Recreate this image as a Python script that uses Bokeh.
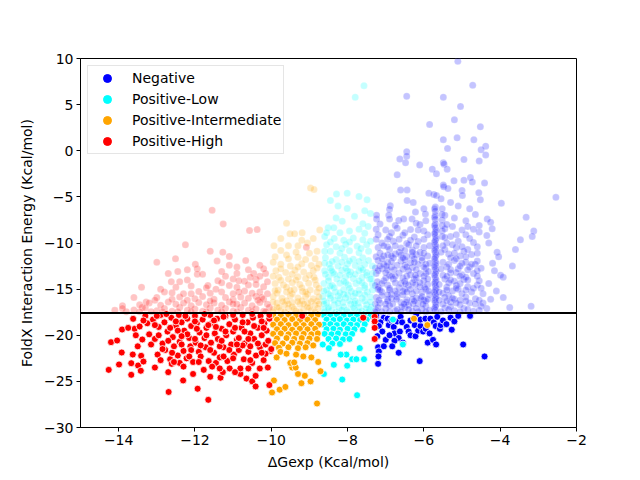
import numpy as np
from bokeh.plotting import figure
from bokeh.models import Range1d, FixedTicker, Span, Legend, LegendItem, CustomJSTickFormatter
from bokeh.embed import file_html
from bokeh.resources import INLINE

# points below this FoldX energy are drawn solid, above it faded
threshold = -17.6

x_ticks = [-14, -12, -10, -8, -6, -4, -2]
y_ticks = [-30, -25, -20, -15, -10, -5, 0, 5, 10]

labels = ["Negative", "Positive-Low", "Positive-Intermediate", "Positive-High"]
colors = ["#0000ff", "#00ffff", "#ffa500", "#ff0000"]

# (dGexp, FoldX energy)
neg_pts = [
    (-5.11, 9.7), (-4.72, 7.1), (-6.45, 5.9), (-5.49, 5.8), (-5.04, 4.8), (-5.2, 3.35), (-5.85, 2.85),
    (-4.52, 2.6), (-5.49, 1.2), (-5.13, 1.4), (-4.69, 1.2), (-5.38, 0.25), (-4.38, 0.5), (-4.5, 0.1),
    (-4.38, -0.45), (-6.45, -0.1), (-6.45, -0.6), (-6.63, -0.9), (-6.48, -1.3), (-6.11, -1.55),
    (-5.49, -1.3), (-5.47, -1.45), (-5.39, -2.0), (-5.78, -2.0), (-5.67, -2.5), (-4.95, -0.95),
    (-4.55, -1.1), (-6.7, -2.6), (-5.21, -3.25), (-4.95, -3.2), (-4.78, -2.9), (-4.73, -3.4),
    (-4.41, -3.5), (-6.61, -4.25), (-6.44, -4.25), (-5.49, -3.7), (-5.48, -3.9), (-5.37, -4.1),
    (-5.87, -4.6), (-5.74, -4.75), (-5.67, -4.85), (-5.0, -4.3), (-4.99, -4.85), (-4.56, -4.55),
    (-6.44, -5.4), (-6.28, -5.6), (-4.52, -5.3), (-3.97, -5.7), (-2.54, -5.05), (-6.88, -5.95),
    (-6.9, -6.35), (-3.32, -7.2), (-3.12, -8.7), (-3.16, -9.3), (-3.47, -9.65), (-3.6, -10.7),
    (-3.68, -12.5), (-3.92, -13.7), (-3.99, -13.5), (-3.92, -15.9), (-3.19, -16.85), (-4.25, -16.1),
    (-7.24, -7.4), (-7.24, -7.0), (-6.92, -7.0), (-6.9, -7.4), (-6.66, -7.55), (-6.53, -7.4),
    (-6.31, -7.4), (-6.22, -6.65), (-6.0, -6.3), (-5.96, -6.85), (-4.34, -7.4), (-4.25, -7.75),
    (-4.21, -8.45), (-4.08, -11.0), (-4.04, -11.5), (-5.55, -5.2), (-5.3, -5.6), (-5.1, -6.0),
    (-4.8, -6.3), (-4.65, -6.9), (-5.45, -7.0), (-5.2, -7.3), (-4.9, -7.6), (-4.55, -8.1),
    (-6.1, -8.0), (-5.95, -7.6), (-4.35, -9.2), (-4.3, -10.0), (-4.2, -12.2), (-4.15, -13.0),
    (-4.3, -14.4), (-4.1, -15.2), (-4.35, -17.1), (-3.75, -17.0), (-4.45, -16.5),
    (-5.7, -6.1), (-5.7, -6.55), (-5.7, -7.0), (-5.7, -7.45), (-5.7, -7.9), (-5.7, -8.35),
    (-5.7, -8.8), (-5.7, -9.25), (-5.7, -9.7), (-5.7, -10.15), (-5.7, -10.6), (-5.7, -11.05),
    (-5.7, -11.5), (-5.7, -11.95), (-5.7, -12.4), (-5.7, -12.85), (-5.7, -13.3), (-5.7, -13.75),
    (-5.7, -14.2), (-5.7, -14.65), (-5.7, -15.1), (-5.7, -15.55), (-5.7, -16.0), (-5.7, -16.45),
    (-5.7, -16.9), (-5.7, -17.3), (-5.68, -8.6), (-5.68, -9.5), (-5.68, -10.4), (-5.68, -11.3),
    (-5.68, -12.2), (-5.68, -13.1), (-5.68, -14.0), (-5.68, -14.9), (-5.68, -15.8), (-5.68, -16.7),
    (-5.72, -6.3), (-5.72, -7.2), (-5.72, -8.1), (-5.72, -9.0), (-5.72, -9.9), (-5.72, -10.8),
    (-5.72, -11.7), (-5.72, -12.6), (-5.72, -13.5), (-5.72, -14.4), (-5.72, -15.3), (-5.72, -16.2),
    (-5.72, -17.1),
    (-5.52, -6.3), (-5.52, -6.9), (-5.52, -7.5), (-5.52, -8.1), (-5.52, -8.7), (-5.52, -9.3),
    (-7.25, -17.3), (-7.0, -17.1), (-6.75, -17.35), (-6.5, -17.0), (-6.3, -17.4), (-6.05, -17.15),
    (-5.85, -17.3), (-5.45, -17.05), (-5.2, -17.35), (-4.95, -17.1), (-4.7, -17.4),
    (-7.15, -16.5), (-6.9, -16.8), (-6.6, -16.45), (-6.4, -16.75), (-6.15, -16.55), (-5.95, -16.85),
    (-5.5, -16.6), (-5.3, -16.4), (-5.05, -16.7), (-4.8, -16.5), (-4.5, -16.85),
    (-7.25, -15.9), (-6.95, -16.1), (-6.7, -15.85), (-6.45, -16.15), (-6.2, -15.95), (-6.0, -16.2),
    (-5.45, -15.9), (-5.2, -16.1), (-4.9, -15.85), (-4.65, -16.05),
    (-7.1, -15.3), (-6.85, -15.55), (-6.55, -15.25), (-6.3, -15.5), (-6.05, -15.35), (-5.5, -15.45),
    (-5.25, -15.2), (-5.0, -15.5), (-4.75, -15.3), (-4.45, -15.5),
    (-7.2, -14.8), (-6.95, -14.55), (-6.65, -14.85), (-6.4, -14.6), (-6.1, -14.75), (-5.9, -14.5),
    (-5.4, -14.8), (-5.15, -14.6), (-4.85, -14.75), (-4.6, -14.55),
    (-7.05, -14.1), (-6.8, -13.9), (-6.5, -14.15), (-6.25, -13.95), (-6.0, -14.1), (-5.45, -13.9),
    (-5.2, -14.15), (-4.95, -13.95), (-4.55, -14.1),
    (-7.25, -13.3), (-6.9, -13.5), (-6.65, -13.25), (-6.35, -13.45), (-6.1, -13.3), (-5.5, -13.5),
    (-5.3, -13.25), (-5.0, -13.45), (-4.7, -13.3),
    (-7.1, -12.8), (-6.85, -12.6), (-6.55, -12.85), (-6.3, -12.65), (-5.95, -12.75), (-5.4, -12.6),
    (-5.1, -12.8), (-4.8, -12.6), (-4.5, -12.75),
    (-7.2, -11.9), (-6.95, -12.1), (-6.6, -11.95), (-6.35, -12.15), (-6.05, -11.9), (-5.5, -12.1),
    (-5.2, -11.9), (-4.9, -12.1), (-4.6, -11.95),
    (-7.05, -11.4), (-6.75, -11.2), (-6.45, -11.45), (-6.2, -11.25), (-5.9, -11.4), (-5.35, -11.2),
    (-5.05, -11.4), (-4.75, -11.25),
    (-7.2, -10.5), (-6.9, -10.7), (-6.6, -10.55), (-6.3, -10.75), (-6.0, -10.5), (-5.45, -10.7),
    (-5.15, -10.5), (-4.85, -10.7),
    (-7.1, -10.0), (-6.8, -9.8), (-6.45, -10.05), (-6.15, -9.85), (-5.4, -10.0), (-5.1, -9.8), (-4.7, -9.95),
    (-7.2, -9.1), (-6.9, -9.3), (-6.55, -9.15), (-6.25, -9.35), (-5.9, -9.1), (-5.3, -9.3), (-4.9, -9.1),
    (-7.0, -8.6), (-6.7, -8.4), (-6.35, -8.55), (-6.0, -8.7), (-5.45, -8.45), (-5.0, -8.6), (-4.55, -8.8),
    (-7.15, -7.95), (-6.75, -8.1), (-6.2, -7.85), (-5.4, -8.0), (-4.85, -8.2),
    (-7.2, -17.0), (-6.95, -16.3), (-6.7, -17.2), (-6.45, -16.4), (-6.2, -17.1), (-5.95, -16.3),
    (-7.1, -15.7), (-6.85, -16.0), (-6.55, -15.6), (-6.3, -16.1), (-6.05, -15.8), (-7.2, -15.0),
    (-6.9, -15.1), (-6.6, -14.4), (-6.35, -15.0), (-6.1, -14.3), (-7.1, -14.4), (-6.85, -13.6),
    (-6.55, -13.8), (-6.3, -14.3), (-6.0, -13.6), (-7.2, -13.0), (-6.95, -12.9), (-6.7, -12.4),
    (-6.4, -13.0), (-6.15, -12.3), (-7.05, -12.3), (-6.8, -11.6), (-6.5, -11.8), (-6.25, -11.7),
    (-5.95, -12.3), (-7.15, -11.1), (-6.95, -10.4), (-6.65, -11.0), (-6.4, -10.2), (-6.1, -11.0),
    (-5.3, -16.9), (-5.05, -16.2), (-5.35, -15.7), (-5.1, -15.0), (-5.35, -14.3), (-5.05, -13.6),
    (-5.3, -12.9), (-5.0, -12.2), (-5.3, -11.6), (-4.95, -10.9), (-4.6, -13.6), (-4.65, -12.3),
    (-4.5, -14.9), (-4.55, -16.2),
    (-7.18, -16.2), (-6.82, -16.6), (-6.58, -16.9), (-6.28, -16.6), (-6.08, -16.0), (-5.85, -15.6),
    (-5.6, -16.2), (-5.4, -16.3), (-5.15, -16.5), (-4.9, -16.3), (-4.65, -16.6),
    (-7.22, -14.2), (-6.95, -15.6), (-6.75, -15.2), (-6.5, -15.0), (-6.2, -15.2), (-5.95, -15.0),
    (-5.6, -15.3), (-5.4, -15.1), (-5.15, -14.9), (-4.9, -15.1), (-4.7, -14.9),
    (-7.0, -13.2), (-6.75, -14.3), (-6.45, -13.6), (-6.2, -13.8), (-5.9, -13.9), (-5.6, -14.5),
    (-5.4, -13.6), (-5.15, -13.2), (-4.9, -13.7), (-4.6, -13.0),
    (-7.15, -12.5), (-6.85, -12.0), (-6.5, -12.4), (-6.2, -12.9), (-5.85, -12.2), (-5.55, -12.8),
    (-5.35, -12.3), (-5.05, -12.5), (-4.75, -12.3),
    (-7.25, -11.5), (-6.95, -11.3), (-6.6, -11.3), (-6.3, -11.4), (-6.0, -11.1), (-5.55, -11.0),
    (-5.2, -11.1), (-4.9, -11.5), (-4.6, -11.1),
    (-7.05, -10.3), (-6.75, -10.3), (-6.5, -10.8), (-6.2, -10.3), (-5.85, -10.3), (-5.5, -10.3),
    (-5.25, -10.2), (-5.0, -10.4), (-4.6, -10.4),
    (-7.25, -9.6), (-6.95, -9.6), (-6.65, -9.6), (-6.35, -9.7), (-6.0, -9.6), (-5.45, -9.4),
    (-5.15, -9.1), (-4.8, -9.5), (-7.25, -8.5), (-6.85, -8.9), (-6.5, -8.9), (-6.15, -8.6),
    (-5.25, -8.2), (-4.7, -8.5),
    (-7.28, -17.45), (-7.1, -17.45), (-6.9, -17.45), (-6.6, -17.45), (-6.4, -17.2), (-6.15, -17.45),
    (-5.95, -17.45), (-5.55, -17.45), (-5.35, -17.2), (-5.05, -17.45), (-4.85, -17.2), (-4.55, -17.3),
    (-7.27, -16.6), (-7.0, -16.6), (-6.72, -16.1), (-6.52, -16.6), (-6.25, -16.3), (-6.02, -16.6),
    (-7.15, -15.1), (-6.9, -14.9), (-6.7, -15.5), (-6.45, -15.3), (-6.22, -14.5), (-5.98, -14.8),
    (-7.27, -14.6), (-7.0, -13.8), (-6.75, -13.6), (-6.48, -14.4), (-6.22, -13.5), (-5.95, -13.3),
    (-7.27, -12.7), (-6.98, -12.5), (-6.78, -12.9), (-6.45, -12.6), (-6.25, -12.1), (-6.0, -12.6),
    (-7.1, -11.7), (-6.85, -11.4), (-6.55, -11.6), (-6.3, -11.0), (-6.05, -11.6), (-5.88, -13.1),
    (-5.88, -15.2), (-5.9, -16.1), (-5.3, -14.0), (-5.25, -16.0), (-5.05, -14.4), (-4.85, -12.9),
    (-5.15, -11.7), (-4.85, -14.0),
    (-7.25, -17.9), (-7.05, -18.1), (-6.95, -18.2), (-7.14, -18.6), (-7.18, -19.0), (-7.09, -19.6),
    (-7.22, -20.1), (-7.0, -20.5), (-7.2, -21.3), (-7.05, -21.2), (-7.18, -21.75), (-7.19, -22.3),
    (-7.2, -23.1), (-6.92, -18.9), (-6.85, -18.4), (-6.79, -19.1), (-6.77, -19.8), (-6.9, -20.0),
    (-6.63, -19.6), (-6.66, -20.3), (-6.77, -20.6), (-6.55, -20.8), (-6.83, -21.2), (-6.66, -21.9),
    (-6.7, -18.5), (-6.61, -18.0), (-6.57, -18.6), (-6.45, -19.1), (-6.4, -19.6), (-6.35, -18.4),
    (-6.35, -20.0), (-6.24, -18.9), (-6.22, -20.1), (-6.2, -17.8), (-6.15, -19.5), (-6.09, -19.0),
    (-6.09, -18.3), (-6.02, -19.6), (-5.96, -18.2), (-5.95, -19.3), (-5.85, -19.8), (-5.83, -18.2),
    (-5.74, -18.6), (-5.69, -19.0), (-5.65, -18.0), (-5.58, -19.3), (-5.56, -18.9), (-5.5, -18.4),
    (-5.41, -18.8), (-5.3, -18.1), (-5.27, -19.4), (-5.2, -18.5), (-5.1, -17.9), (-5.9, -20.8),
    (-5.76, -20.5), (-5.68, -21.0), (-6.11, -22.8), (-4.97, -21.0), (-4.79, -17.9), (-4.41, -22.3),
]

low_pts = [
    (-7.57, 7.05), (-7.8, 5.8), (-8.01, -4.6), (-8.29, -4.7), (-8.45, -5.4), (-7.7, -4.95),
    (-7.49, -5.3), (-8.01, -6.25), (-7.82, -7.1), (-8.14, -7.65), (-8.51, -8.35), (-8.36, -8.35),
    (-7.46, -8.2), (-7.4, -6.8), (-8.6, -9.3), (-7.6, -7.9), (-7.95, -8.7),
    (-8.62, -17.2), (-8.42, -17.35), (-8.22, -17.1), (-8.02, -17.3), (-7.82, -17.15), (-7.62, -17.4), (-7.42, -17.2),
    (-8.55, -16.5), (-8.35, -16.7), (-8.12, -16.45), (-7.92, -16.65), (-7.72, -16.5), (-7.5, -16.7),
    (-8.65, -15.8), (-8.45, -16.0), (-8.25, -15.75), (-8.05, -15.95), (-7.85, -15.8), (-7.62, -16.0), (-7.4, -15.85),
    (-8.55, -15.1), (-8.32, -15.3), (-8.1, -15.05), (-7.9, -15.25), (-7.7, -15.1), (-7.48, -15.3),
    (-8.62, -14.4), (-8.4, -14.6), (-8.2, -14.35), (-7.98, -14.55), (-7.78, -14.4), (-7.55, -14.6), (-7.35, -14.45),
    (-8.5, -13.7), (-8.28, -13.9), (-8.05, -13.65), (-7.85, -13.85), (-7.62, -13.7), (-7.42, -13.9),
    (-8.6, -13.0), (-8.38, -13.2), (-8.15, -12.95), (-7.92, -13.15), (-7.7, -13.0), (-7.5, -13.2),
    (-8.48, -12.3), (-8.25, -12.5), (-8.0, -12.25), (-7.8, -12.45), (-7.55, -12.3), (-7.35, -12.5),
    (-8.58, -11.6), (-8.3, -11.8), (-8.08, -11.55), (-7.85, -11.75), (-7.6, -11.6),
    (-8.45, -10.9), (-8.2, -11.1), (-7.95, -10.85), (-7.7, -11.05), (-7.45, -10.9),
    (-8.55, -10.2), (-8.3, -10.4), (-8.05, -10.15), (-7.75, -10.35), (-7.5, -10.2),
    (-8.35, -9.5), (-8.1, -9.7), (-7.85, -9.45), (-7.6, -9.65), (-8.2, -8.9), (-7.55, -8.95),
    (-8.5, -16.95), (-8.1, -16.9), (-7.7, -16.95), (-8.35, -16.2), (-7.95, -16.25), (-7.55, -16.3),
    (-8.5, -15.5), (-8.1, -15.55), (-7.7, -15.5), (-8.35, -14.85), (-7.95, -14.9), (-7.55, -14.85),
    (-8.5, -14.1), (-8.1, -14.15), (-7.7, -14.1), (-8.35, -13.4), (-7.95, -13.45), (-7.5, -13.5),
    (-8.45, -12.7), (-8.05, -12.75), (-7.65, -12.7), (-8.4, -12.0), (-7.95, -11.95), (-7.45, -11.9),
    (-8.6, -17.45), (-8.3, -17.45), (-8.0, -17.45), (-7.7, -17.45), (-7.45, -17.45), (-8.62, -16.3),
    (-8.2, -16.05), (-7.8, -16.3), (-7.4, -16.4), (-8.62, -15.2), (-8.2, -15.4), (-7.8, -15.45),
    (-7.35, -15.1), (-8.58, -13.4), (-8.2, -13.5), (-7.8, -13.4), (-7.35, -13.3), (-8.6, -12.2),
    (-8.15, -12.1), (-7.7, -12.0), (-8.6, -10.9), (-8.15, -10.6), (-7.65, -10.6), (-8.45, -9.9),
    (-7.95, -9.9), (-7.4, -9.8), (-8.55, -8.9), (-7.7, -8.5), (-8.3, -7.3), (-7.55, -6.5), (-8.25, -6.0),
    (-8.5, -17.1), (-8.15, -17.25), (-7.85, -17.0), (-7.52, -17.1), (-8.62, -16.6), (-8.25, -16.5),
    (-7.82, -16.55), (-7.38, -16.9), (-8.45, -15.7), (-8.0, -15.6), (-7.55, -15.6), (-8.45, -14.7),
    (-8.05, -14.3), (-7.62, -14.3), (-7.38, -13.9), (-8.42, -13.0), (-8.0, -13.0), (-7.6, -12.9),
    (-8.62, -17.8), (-8.45, -17.85), (-8.28, -17.75), (-8.1, -17.9), (-7.92, -17.8), (-7.75, -17.85),
    (-7.58, -17.75), (-7.4, -17.9), (-8.55, -18.3), (-8.37, -18.35), (-8.2, -18.25), (-8.02, -18.4),
    (-7.85, -18.3), (-7.67, -18.35), (-7.5, -18.3), (-8.62, -18.85), (-8.45, -18.8), (-8.28, -18.9),
    (-8.1, -18.8), (-7.92, -18.85), (-7.75, -18.9), (-7.55, -18.8), (-8.55, -19.35), (-8.37, -19.3),
    (-8.2, -19.4), (-8.0, -19.3), (-7.82, -19.35), (-7.6, -19.4), (-8.6, -19.85), (-8.42, -19.9),
    (-8.25, -19.8), (-8.05, -19.9), (-7.88, -19.85), (-8.5, -20.4), (-8.3, -20.35), (-8.12, -20.45),
    (-7.95, -20.4), (-8.4, -20.9), (-8.2, -20.95),
    (-8.62, -24.2), (-8.36, -23.2), (-8.14, -24.8), (-8.01, -23.3), (-7.75, -26.5), (-7.88, -22.6),
    (-7.77, -22.6), (-7.57, -22.6), (-7.68, -21.4), (-8.03, -22.1), (-8.18, -22.1), (-8.49, -21.4),
    (-8.65, -21.0), (-6.81, -18.3), (-6.55, -21.0),
]

mid_pts = [
    (-8.97, -4.05), (-8.88, -4.2), (-9.6, -7.85), (-9.51, -9.0), (-9.39, -9.0), (-9.19, -8.9),
    (-8.73, -8.6), (-9.93, -10.3), (-9.75, -10.8), (-9.3, -10.3), (-9.05, -10.0), (-9.6, -11.3),
    (-8.8, -10.9), (-9.9, -11.5),
    (-9.95, -17.2), (-9.75, -17.35), (-9.55, -17.1), (-9.35, -17.4), (-9.15, -17.2), (-8.95, -17.35), (-8.78, -17.1),
    (-9.85, -16.5), (-9.65, -16.7), (-9.45, -16.45), (-9.25, -16.65), (-9.05, -16.5), (-8.85, -16.75),
    (-9.95, -15.8), (-9.72, -16.0), (-9.5, -15.75), (-9.3, -15.95), (-9.1, -15.8), (-8.9, -16.05), (-8.75, -15.85),
    (-9.82, -15.1), (-9.6, -15.3), (-9.4, -15.05), (-9.18, -15.25), (-8.98, -15.1), (-8.8, -15.3),
    (-9.9, -14.4), (-9.68, -14.55), (-9.45, -14.3), (-9.25, -14.5), (-9.02, -14.35), (-8.82, -14.55),
    (-9.8, -13.7), (-9.55, -13.9), (-9.3, -13.65), (-9.1, -13.85), (-8.88, -13.7),
    (-9.88, -13.0), (-9.62, -13.2), (-9.38, -12.95), (-9.15, -13.15), (-8.9, -13.0),
    (-9.75, -12.3), (-9.5, -12.5), (-9.2, -12.25), (-8.95, -12.45), (-8.75, -12.3),
    (-9.55, -11.7), (-9.3, -11.55), (-8.85, -11.7), (-9.35, -11.0), (-9.0, -11.1),
    (-9.85, -16.95), (-9.45, -16.9), (-9.05, -16.95), (-9.6, -16.25), (-9.2, -16.25), (-8.8, -16.3),
    (-9.85, -15.45), (-9.45, -15.5), (-9.05, -15.55), (-9.6, -14.8), (-9.2, -14.85), (-8.85, -14.0),
    (-9.75, -14.05), (-9.35, -14.0),
    (-9.95, -17.45), (-9.65, -17.45), (-9.25, -17.45), (-8.85, -17.45), (-9.95, -16.4), (-9.55, -16.6),
    (-9.15, -16.6), (-8.75, -16.6), (-9.9, -15.15), (-9.5, -15.15), (-9.1, -15.3), (-8.75, -14.9),
    (-9.95, -13.6), (-9.45, -13.4), (-9.0, -13.5), (-9.75, -12.8), (-9.3, -12.6), (-8.8, -12.7),
    (-9.95, -12.1), (-9.1, -11.8), (-9.55, -10.3), (-9.2, -9.7), (-9.75, -9.5), (-8.9, -9.5),
    (-9.8, -17.0), (-9.4, -17.15), (-9.0, -17.0), (-9.7, -16.35), (-9.3, -16.35), (-8.95, -16.35),
    (-9.95, -17.8), (-9.75, -17.85), (-9.55, -17.75), (-9.35, -17.9), (-9.15, -17.8), (-8.95, -17.85),
    (-8.78, -17.75), (-9.85, -18.3), (-9.65, -18.35), (-9.45, -18.25), (-9.25, -18.4), (-9.05, -18.3),
    (-8.85, -18.35), (-9.95, -18.85), (-9.75, -18.8), (-9.55, -18.9), (-9.35, -18.8), (-9.15, -18.9),
    (-8.95, -18.8), (-8.75, -18.85), (-9.85, -19.35), (-9.65, -19.3), (-9.45, -19.4), (-9.25, -19.3),
    (-9.05, -19.35), (-8.85, -19.3), (-9.95, -19.85), (-9.75, -19.8), (-9.55, -19.9), (-9.35, -19.8),
    (-9.15, -19.85), (-8.95, -19.9), (-8.78, -19.8), (-9.85, -20.35), (-9.6, -20.3), (-9.4, -20.4),
    (-9.2, -20.3), (-9.0, -20.35), (-8.8, -20.4), (-9.9, -20.85), (-9.7, -20.9), (-9.45, -20.8),
    (-9.25, -20.9), (-9.05, -20.85), (-9.8, -21.35), (-9.55, -21.3), (-9.3, -21.4), (-9.1, -21.3),
    (-8.9, -21.1),
    (-9.93, -24.9), (-9.98, -26.2), (-9.78, -25.9), (-9.63, -25.6), (-9.21, -25.2), (-8.97, -25.0),
    (-9.12, -24.4), (-9.3, -24.2), (-8.8, -27.4), (-8.71, -23.9), (-9.45, -23.5), (-9.36, -23.5),
    (-9.5, -23.0), (-9.4, -22.95), (-9.16, -22.3), (-8.95, -22.4), (-8.77, -22.9), (-9.86, -22.4),
    (-9.76, -21.8), (-9.6, -22.0), (-9.35, -22.1), (-6.26, -18.2), (-5.91, -18.9),
]

high_pts = [
    (-11.55, -6.45), (-11.26, -7.95), (-10.57, -8.65), (-10.37, -8.55), (-12.25, -10.2), (-12.51, -11.7),
    (-13.0, -12.1), (-11.27, -11.0), (-11.1, -11.45), (-11.42, -11.95), (-10.67, -11.9), (-9.08, -10.45),
    (-11.99, -12.3), (-11.94, -12.8), (-11.94, -13.4), (-12.62, -14.2), (-12.9, -15.0), (-13.28, -16.4),
    (-13.38, -17.0), (-12.4, -14.2), (-11.66, -14.6), (-10.46, -13.3), (-10.15, -13.3), (-11.6, -10.9),
    (-10.9, -12.6), (-10.3, -12.4), (-11.3, -13.1), (-12.2, -12.9), (-13.9, -16.8), (-13.6, -15.9),
    (-14.1, -17.3),
    (-13.6, -17.25), (-13.3, -17.05), (-13.0, -17.35), (-12.8, -17.1), (-12.6, -17.4), (-12.4, -17.0),
    (-12.2, -17.3), (-12.0, -17.15), (-11.8, -17.4), (-11.6, -17.05), (-11.4, -17.3), (-11.2, -17.1),
    (-11.0, -17.4), (-10.8, -17.0), (-10.6, -17.3), (-10.4, -17.15), (-10.2, -17.4), (-10.05, -17.0),
    (-13.2, -16.5), (-12.9, -16.75), (-12.7, -16.4), (-12.5, -16.65), (-12.3, -16.5), (-12.1, -16.8),
    (-11.9, -16.45), (-11.7, -16.7), (-11.5, -16.5), (-11.3, -16.75), (-11.1, -16.4), (-10.9, -16.65),
    (-10.7, -16.5), (-10.5, -16.8), (-10.3, -16.45), (-10.1, -16.65),
    (-13.0, -15.9), (-12.6, -16.1), (-12.4, -15.85), (-12.0, -16.05), (-11.8, -15.8), (-11.5, -16.1),
    (-11.2, -15.9), (-11.0, -16.15), (-10.8, -15.85), (-10.6, -16.0), (-10.4, -15.8), (-10.2, -16.1),
    (-12.8, -15.3), (-12.3, -15.5), (-11.9, -15.25), (-11.6, -15.45), (-11.3, -15.3), (-11.0, -15.5),
    (-10.7, -15.2), (-10.5, -15.45), (-10.3, -15.3), (-10.1, -15.5),
    (-12.5, -14.8), (-12.1, -14.65), (-11.7, -14.85), (-11.1, -14.6), (-10.9, -14.8), (-10.6, -14.55),
    (-10.2, -14.75), (-12.2, -14.0), (-11.4, -14.1), (-11.0, -13.9), (-10.7, -14.15), (-10.4, -13.95),
    (-10.1, -14.2), (-11.8, -13.4), (-11.2, -13.6), (-10.9, -13.3), (-10.3, -13.6), (-10.6, -12.9),
    (-13.8, -17.45), (-13.45, -17.45), (-13.15, -17.45), (-12.85, -17.45), (-12.45, -17.45), (-12.1, -17.45),
    (-11.7, -17.45), (-11.3, -17.45), (-10.9, -17.45), (-10.5, -17.45), (-10.15, -17.45), (-13.45, -16.7),
    (-13.05, -16.2), (-12.2, -16.2), (-11.6, -16.3), (-11.0, -16.6), (-10.35, -16.2), (-12.6, -15.4),
    (-12.1, -15.5), (-11.45, -15.0), (-10.85, -15.3), (-10.25, -15.9), (-10.4, -14.5), (-10.85, -14.1),
    (-11.3, -14.3), (-10.55, -13.7), (-10.2, -12.8), (-11.1, -12.4), (-12.7, -13.3), (-13.4, -14.8),
    (-13.9, -17.1), (-12.45, -13.1),
    (-14.26, -23.75), (-14.2, -20.75), (-14.04, -20.57), (-13.92, -21.87), (-13.91, -19.38), (-13.99, -23.17),
    (-13.67, -24.29), (-13.67, -23.03), (-13.63, -22.09), (-13.58, -19.3), (-13.62, -18.22), (-13.49, -23.28),
    (-13.42, -23.85), (-13.41, -22.23), (-13.35, -22.85), (-13.45, -19.05), (-13.38, -20.46), (-13.5, -21.2),
    (-13.3, -17.9), (-13.25, -18.7), (-13.2, -19.9), (-13.15, -21.0), (-13.1, -18.3), (-13.05, -20.4),
    (-12.98, -22.1), (-12.95, -19.1), (-12.9, -17.8), (-12.85, -20.9), (-12.8, -18.6), (-12.78, -21.6),
    (-12.72, -19.6), (-12.69, -26.15), (-12.65, -22.6), (-12.62, -18.1), (-12.61, -23.1), (-12.58, -20.2),
    (-12.55, -21.2), (-12.5, -19.0), (-12.45, -22.2), (-12.42, -17.8), (-12.4, -20.7), (-12.35, -18.6),
    (-12.31, -24.9), (-12.3, -21.7), (-12.28, -19.5), (-12.22, -22.5), (-12.2, -18.2), (-12.15, -20.3),
    (-12.12, -21.2), (-12.1, -19.0), (-12.05, -22.9), (-12.0, -17.9), (-11.98, -20.8), (-11.95, -18.7),
    (-11.93, -25.8), (-11.9, -21.8), (-11.88, -19.7), (-11.85, -22.3), (-11.8, -18.3), (-11.77, -23.75),
    (-11.75, -20.3), (-11.72, -21.3), (-11.7, -19.2), (-11.65, -27.0), (-11.64, -22.8), (-11.6, -17.8),
    (-11.58, -20.8), (-11.55, -18.7), (-11.5, -21.9), (-11.48, -19.8), (-11.45, -23.0), (-11.42, -18.2),
    (-11.4, -20.4), (-11.35, -22.4), (-11.33, -24.6), (-11.3, -19.3), (-11.27, -24.0), (-11.25, -21.3),
    (-11.2, -17.9), (-11.18, -20.0), (-11.15, -22.8), (-11.1, -18.8), (-11.09, -23.6), (-11.05, -21.0),
    (-11.0, -19.6), (-10.98, -22.1), (-10.95, -18.3), (-10.9, -20.5), (-10.85, -21.6), (-10.81, -24.2),
    (-10.81, -23.6), (-10.78, -19.2), (-10.75, -17.8), (-10.72, -22.6), (-10.7, -20.9), (-10.65, -24.7),
    (-10.62, -18.6), (-10.6, -21.8), (-10.55, -19.8), (-10.5, -25.0), (-10.5, -23.0), (-10.48, -18.1),
    (-10.45, -20.4), (-10.41, -25.55), (-10.41, -24.4), (-10.4, -22.2), (-10.35, -19.2), (-10.3, -21.3),
    (-10.28, -17.9), (-10.25, -20.0), (-10.2, -22.7), (-10.18, -18.7), (-10.15, -21.0), (-10.12, -19.5),
    (-10.09, -23.5), (-10.08, -20.6), (-10.05, -25.4), (-10.05, -18.2), (-10.02, -21.7),
    (-13.0, -17.9), (-12.75, -17.7), (-12.5, -18.5), (-12.25, -17.9), (-12.0, -18.5), (-11.75, -17.7),
    (-11.5, -18.4), (-11.25, -18.0), (-11.0, -17.8), (-10.75, -18.6), (-10.5, -17.7), (-10.25, -18.5),
    (-10.05, -17.8), (-12.95, -20.0), (-12.7, -20.6), (-12.45, -19.5), (-12.2, -19.9), (-11.95, -19.3),
    (-11.7, -20.0), (-11.45, -19.1), (-11.2, -19.6), (-10.95, -19.2), (-10.7, -19.6), (-10.45, -19.0),
    (-10.2, -19.2), (-12.85, -21.5), (-12.6, -21.9), (-12.35, -21.0), (-12.1, -21.6), (-11.85, -21.1),
    (-11.6, -21.6), (-11.35, -21.2), (-11.1, -21.6), (-10.85, -20.3), (-10.6, -20.4), (-10.35, -20.9),
    (-10.15, -22.0), (-12.9, -22.7), (-12.4, -23.0), (-12.15, -22.3), (-11.9, -22.9), (-11.55, -23.4),
    (-11.25, -22.3), (-11.0, -22.5), (-10.75, -21.1), (-10.55, -22.7), (-10.3, -23.6), (-12.05, -24.2),
    (-11.6, -24.5), (-10.95, -24.0), (-10.6, -23.6), (-13.35, -18.4), (-13.55, -20.0), (-13.75, -19.2),
    (-13.05, -23.5), (-12.3, -23.4),
    (-13.05, -18.9), (-12.65, -19.2), (-12.35, -20.1), (-12.0, -20.4), (-11.65, -18.9), (-11.3, -20.6),
    (-10.9, -21.0), (-10.55, -21.2), (-10.25, -21.9), (-12.55, -22.9), (-11.35, -23.6), (-12.7, -24.0),
    (-7.29, -18.0), (-7.29, -18.5), (-7.29, -19.2), (-7.29, -20.4), (-9.19, -17.9), (-7.59, -18.1),
    (-10.0, -21.5),
]

groups = [neg_pts, low_pts, mid_pts, high_pts]

p = figure(frame_width=496, frame_height=369,
           x_range=Range1d(-15, -2), y_range=Range1d(-30, 10),
           output_backend="svg", toolbar_location=None, tools="",
           min_border_left=80, min_border_top=58, min_border_right=40, min_border_bottom=48)

# faded points above the cut first, then the solid ones
for pts, c in zip(groups, colors):
    arr = np.array(pts)
    up = arr[arr[:, 1] >= threshold]
    p.scatter(up[:, 0], up[:, 1], size=7, fill_color=c, fill_alpha=0.23,
              line_color="white", line_alpha=0.23, line_width=0.8)

solid = []
for pts, c in zip(groups, colors):
    arr = np.array(pts)
    lo = arr[arr[:, 1] < threshold]
    p.scatter(lo[:, 0], lo[:, 1], size=7, fill_color=c, line_color="white", line_width=0.8)
    solid.append(lo)

p.add_layout(Span(location=threshold, dimension="width", line_color="black", line_width=2))

# legend markers: hidden copies of the solid points, bigger and without edge
items = []
for lab, c, lo in zip(labels, colors, solid):
    r = p.scatter(lo[:, 0], lo[:, 1], size=10, fill_color=c, line_color=c, visible=False)
    items.append(LegendItem(label=lab, renderers=[r]))
leg = Legend(items=items, location="top_left", click_policy="none")
leg.label_text_font = "DejaVu Sans"
leg.label_text_font_size = "14px"
leg.label_text_color = "black"
leg.glyph_width = 34
leg.label_standoff = 8
leg.spacing = 1
leg.padding = 2
leg.margin = 7
leg.border_line_color = "#cccccc"
leg.background_fill_alpha = 0.8
p.add_layout(leg)

minus = CustomJSTickFormatter(code="return tick < 0 ? '\u2212' + Math.abs(tick) : String(tick)")
p.xaxis.ticker = FixedTicker(ticks=x_ticks)
p.yaxis.ticker = FixedTicker(ticks=y_ticks)
p.xaxis.formatter = minus
p.yaxis.formatter = minus
p.xaxis.axis_label = "ΔGexp (Kcal/mol)"
p.yaxis.axis_label = "FoldX Interaction Energy (Kcal/mol)"
p.grid.grid_line_color = None
p.axis.minor_tick_line_color = None
p.axis.major_tick_in = 0
p.axis.major_tick_out = 4
p.axis.major_label_standoff = 3
p.axis.axis_line_color = "black"
p.axis.major_label_text_font = "DejaVu Sans"
p.axis.major_label_text_font_size = "14px"
p.axis.major_label_text_color = "black"
p.axis.axis_label_text_font = "DejaVu Sans"
p.axis.axis_label_text_font_size = "14px"
p.axis.axis_label_text_font_style = "normal"
p.axis.axis_label_text_color = "black"
p.axis.axis_label_standoff = 6
p.outline_line_color = "black"
p.outline_line_alpha = 1

open("out.html", "w").write(file_html(p, INLINE))
